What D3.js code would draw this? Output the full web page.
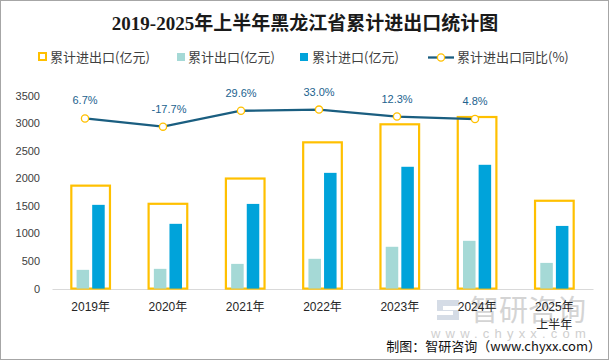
<!DOCTYPE html>
<html><head><meta charset="utf-8">
<script src="https://cdn.jsdelivr.net/npm/d3@7"></script>
<style>body{margin:0;background:#fff}svg{display:block}</style>
</head><body><svg id="c" width="609" height="360"></svg>
<script>
const years = ["2019年","2020年","2021年","2022年","2023年","2024年","2025年"];
const yearSub = ["","","","","","","上半年"];
const totalVals = [1866, 1537, 1995, 2651, 2978, 3110, 1592];
const exportVals = [340, 358, 448, 540, 758, 866, 466];
const importVals = [1518, 1174, 1535, 2098, 2208, 2244, 1136];
const yoyYears = ["2019年","2020年","2021年","2022年","2023年","2024年"];
const yoyVals = [6.7, -17.7, 29.6, 33.0, 12.3, 4.8];
const yTicks = [0, 500, 1000, 1500, 2000, 2500, 3000, 3500];

const svg = d3.select("#c");
const W = 609, H = 360;
svg.append("rect").attr("x",0.5).attr("y",0.5).attr("width",W-1).attr("height",H-1)
  .attr("fill","#fff").attr("stroke","#A6A6A6");

const cjk = "'Noto Sans CJK SC', sans-serif";
const num = "'Liberation Sans', 'Noto Sans CJK SC', sans-serif";

// watermark
const wm = svg.append("g");
wm.append("path").attr("d","M437,300 h22 v6 h-16 v4 h16 v10 h-22 v-5 h16 v-4 h-16 z")
  .attr("fill","#D5DCE6");
wm.append("text").attr("x",528).attr("y",321).attr("text-anchor","middle")
  .attr("font-family",cjk).attr("font-size",29).attr("fill","#D4D4D4").text("智研咨询");
wm.append("text").attr("x",511).attr("y",338).attr("text-anchor","middle")
  .attr("font-family",num).attr("font-size",13).attr("letter-spacing",5.2).attr("fill","#CFCFCF")
  .text("www.chyxx.com");

// title
svg.append("text").attr("x",305).attr("y",30).attr("text-anchor","middle")
  .attr("font-family","'Liberation Serif', 'Noto Sans CJK SC', serif").attr("font-weight","bold")
  .attr("font-size",19).attr("fill","#1a1a1a")
  .text("2019-2025年上半年黑龙江省累计进出口统计图");

const x = d3.scaleBand().domain(years).range([52, 593]);
const xLine = d3.scaleBand().domain(years).range([46, 592]);
const y = d3.scaleLinear().domain([0, 3500]).range([288.6, 95.5]);
const y2 = d3.scaleLinear().domain([-500, 75]).range([288.6, 95.5]);

// y axis labels
const yAxis = d3.axisLeft(y).tickValues(yTicks).tickFormat(d3.format("d")).tickSize(0).tickPadding(0);
const gy = svg.append("g").attr("transform","translate(40,0)").call(yAxis);
gy.select(".domain").remove();
gy.selectAll("text").attr("font-family",num).attr("font-size",11).attr("fill","#404040");

// x axis
const xAxis = d3.axisBottom(x).tickSize(0).tickPadding(0).tickFormat(()=>"");
const gx = svg.append("g").attr("transform","translate(0,289)").call(xAxis);
gx.select(".domain").attr("stroke","#D9D9D9").attr("stroke-width",1);
gx.selectAll(".tick").each(function(d,i){
  const t = d3.select(this).select("text");
  t.attr("font-family",num).attr("font-size",12).attr("fill","#262626").attr("y",0);
  t.append("tspan").attr("x",0).attr("dy",22).text(d);
  if (yearSub[i]) t.append("tspan").attr("x",0).attr("dy",18).text(yearSub[i]);
});

const bw = x.bandwidth();
const boxW = bw*0.5;
const subW = bw*0.162;
const gap = bw*0.04;

// total outline boxes
svg.append("g").selectAll("rect").data(years).join("rect")
  .attr("x", d => x(d) + (bw-boxW)/2)
  .attr("y", (d,i) => y(totalVals[i]))
  .attr("width", boxW)
  .attr("height", (d,i) => y(0) - y(totalVals[i]))
  .attr("fill","none").attr("stroke","#FFC000").attr("stroke-width",2.2);

// export bars
svg.append("g").selectAll("rect").data(years).join("rect")
  .attr("x", d => x(d) + bw/2 - gap/2 - subW)
  .attr("y", (d,i) => y(exportVals[i]))
  .attr("width", subW)
  .attr("height", (d,i) => y(0) - y(exportVals[i]))
  .attr("fill","#A5D9D6");

// import bars
svg.append("g").selectAll("rect").data(years).join("rect")
  .attr("x", d => x(d) + bw/2 + gap/2)
  .attr("y", (d,i) => y(importVals[i]))
  .attr("width", subW)
  .attr("height", (d,i) => y(0) - y(importVals[i]))
  .attr("fill","#00A3DA");

// yoy line
const line = d3.line().x((d,i)=>xLine(yoyYears[i]) + xLine.bandwidth()/2).y(d=>y2(d));
svg.append("path").datum(yoyVals).attr("d",line)
  .attr("fill","none").attr("stroke","#1A5E80").attr("stroke-width",2.3);
svg.append("g").selectAll("circle").data(yoyVals).join("circle")
  .attr("cx",(d,i)=>xLine(yoyYears[i]) + xLine.bandwidth()/2)
  .attr("cy",d=>y2(d)).attr("r",3.6)
  .attr("fill","#fff").attr("stroke","#FFC000").attr("stroke-width",1.3);
svg.append("g").selectAll("text").data(yoyVals).join("text")
  .attr("x",(d,i)=>xLine(yoyYears[i]) + xLine.bandwidth()/2 + (d<0?6:0))
  .attr("y",d=>y2(d)-14)
  .attr("text-anchor","middle").attr("font-family",num).attr("font-size",11)
  .attr("fill","#22628E").text(d=>d.toFixed(1)+"%");

// legend
const lg = svg.append("g").attr("font-family",cjk).attr("font-size",13).attr("fill","#404040");
lg.append("rect").attr("x",39).attr("y",53).attr("width",7).attr("height",7)
  .attr("fill","none").attr("stroke","#FFC000").attr("stroke-width",2);
lg.append("text").attr("x",50).attr("y",61.5).text("累计进出口(亿元)");
lg.append("rect").attr("x",177).attr("y",53).attr("width",8).attr("height",8).attr("fill","#A5D9D6");
lg.append("text").attr("x",188).attr("y",61.5).text("累计出口(亿元)");
lg.append("rect").attr("x",300).attr("y",53).attr("width",8).attr("height",8).attr("fill","#00A3DA");
lg.append("text").attr("x",312).attr("y",61.5).text("累计进口(亿元)");
lg.append("line").attr("x1",428).attr("x2",454).attr("y1",57.5).attr("y2",57.5)
  .attr("stroke","#1A5E80").attr("stroke-width",2.3);
lg.append("circle").attr("cx",441).attr("cy",57.5).attr("r",3.6)
  .attr("fill","#fff").attr("stroke","#FFC000").attr("stroke-width",1.3);
lg.append("text").attr("x",457).attr("y",61.5).text("累计进出口同比(%)");

// source
svg.append("text").attr("x",601).attr("y",350.5).attr("text-anchor","end")
  .attr("font-family",cjk).attr("font-size",13).attr("fill","#111")
  .text("制图：智研咨询（www.chyxx.com）");
</script></body></html>
